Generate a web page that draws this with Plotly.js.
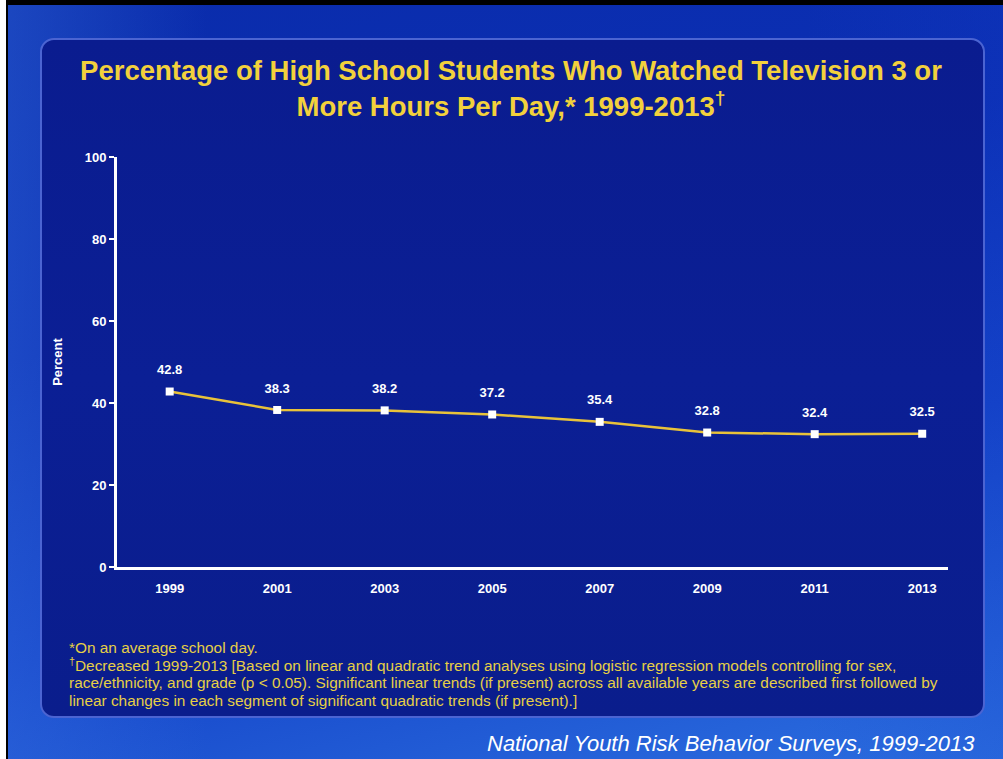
<!DOCTYPE html>
<html>
<head>
<meta charset="utf-8">
<script src="https://cdn.plot.ly/plotly-3.0.1.min.js"></script>
<style>
  html, body { margin: 0; padding: 0; background: #ffffff; }
  #wrap { position: relative; width: 1003px; height: 759px; overflow: hidden; background: #ffffff; }
  #frame { position: absolute; left: 6px; top: 0; right: 0; bottom: 0; background: #000; }
  #bg { position: absolute; left: 8px; top: 5px; right: 0; bottom: 0;
        background: linear-gradient(165deg, #0a2cab 0%, #0b2fb4 35%, #1443c8 65%, #2c6fe0 100%); }
  #bg2 { position: absolute; left: 8px; top: 5px; right: 0; bottom: 0;
        background: linear-gradient(90deg, rgba(60,120,230,0.35) 0%, rgba(0,0,0,0) 20%, rgba(0,0,0,0) 80%, rgba(20,60,200,0.2) 100%); }
  #panel { position: absolute; left: 40px; top: 38px; width: 945px; height: 680px;
           border: 2px solid #4b64d2; border-radius: 14px; box-sizing: border-box;
           background: linear-gradient(180deg, #0a1c8f 0%, #0b1f95 50%, #0a1d8c 100%); }
  #chart { position: absolute; left: 0; top: 0; width: 1003px; height: 759px; }
</style>
</head>
<body>
<div id="wrap">
  <div id="frame"></div>
  <div id="bg"></div>
  <div id="bg2"></div>
  <div id="panel"></div>
  <div id="chart"></div>
</div>
<script>
const years = ["1999", "2001", "2003", "2005", "2007", "2009", "2011", "2013"];
const percent = [42.8, 38.3, 38.2, 37.2, 35.4, 32.8, 32.4, 32.5];
const yTicks = [0, 20, 40, 60, 80, 100];
const titleText = "Percentage of High School Students Who Watched Television 3 or<br>More Hours Per Day,* 1999-2013<sup>†</sup>";
const footnotes = [
  "*On an average school day.",
  "<sup>†</sup>Decreased 1999-2013 [Based on linear and quadratic trend analyses using logistic regression models controlling for sex,",
  "race/ethnicity, and grade (p < 0.05). Significant linear trends (if present) across all available years are described first followed by",
  "linear changes in each segment of significant quadratic trends (if present).]"
];
const sourceText = "National Youth Risk Behavior Surveys, 1999-2013";

const W = 1003, H = 759;
const L = 117, R = 948, T = 157, B = 567;
const pw = R - L, ph = B - T;
function px(x) { return (x - L) / pw; }
function py(y) { return (B - y) / ph; }
const FONT = "Liberation Sans, Arial, sans-serif";

const lineTrace = {
  x: years,
  y: percent,
  type: "scatter",
  mode: "lines+markers",
  line: { color: "#e8c23a", width: 2.5 },
  marker: { symbol: "square", size: 8, color: "#ffffff", line: { color: "#ffffff", width: 0 } },
  cliponaxis: false,
  hoverinfo: "x+y"
};
const labelTrace = {
  x: years,
  y: percent,
  type: "scatter",
  mode: "markers+text",
  text: percent.map(v => v.toFixed(1)),
  textposition: "top center",
  textfont: { family: FONT, size: 13, color: "#ffffff", weight: "bold" },
  marker: { size: 21, color: "rgba(0,0,0,0)" },
  cliponaxis: false,
  hoverinfo: "skip"
};

const annotations = footnotes.map((t, i) => ({
  text: t,
  xref: "paper", yref: "paper",
  x: px(67), y: py([647, 664, 682, 700][i]),
  xanchor: "left", yanchor: "middle",
  showarrow: false,
  align: "left",
  font: { family: FONT, size: 15.4, color: "#e6cf45" }
}));
annotations.push({
  text: "<i>" + sourceText + "</i>",
  xref: "paper", yref: "paper",
  x: px(977), y: py(743),
  xanchor: "right", yanchor: "middle",
  showarrow: false,
  font: { family: FONT, size: 22, color: "#ffffff" }
});

const layout = {
  width: W, height: H,
  margin: { l: L, r: W - R, t: T, b: H - B, pad: 0 },
  paper_bgcolor: "rgba(0,0,0,0)",
  plot_bgcolor: "rgba(0,0,0,0)",
  showlegend: false,
  title: {
    text: titleText,
    x: 511 / W, xanchor: "center",
    y: 1 - 80 / H, yanchor: "middle",
    font: { family: FONT, size: 27.5, color: "#f2d13c", weight: "bold" }
  },
  xaxis: {
    type: "category",
    range: [-0.49, 7.24],
    showgrid: false, zeroline: false,
    showline: true, linecolor: "#ffffff", linewidth: 3,
    ticks: "",
    ticklabelstandoff: 7,
    tickfont: { family: FONT, size: 13, color: "#ffffff", weight: "bold" },
    fixedrange: true
  },
  yaxis: {
    range: [0, 100],
    tickvals: yTicks,
    showgrid: false, zeroline: false,
    showline: true, linecolor: "#ffffff", linewidth: 3,
    ticks: "outside", ticklen: 5, tickwidth: 2, tickcolor: "#ffffff",
    tickfont: { family: FONT, size: 13, color: "#ffffff", weight: "bold" },
    title: { text: "Percent", standoff: 20, font: { family: FONT, size: 13, color: "#ffffff", weight: "bold" } },
    fixedrange: true
  },
  annotations: annotations
};

Plotly.newPlot("chart", [lineTrace, labelTrace], layout, { displayModeBar: false, staticPlot: true });
</script>
</body>
</html>
